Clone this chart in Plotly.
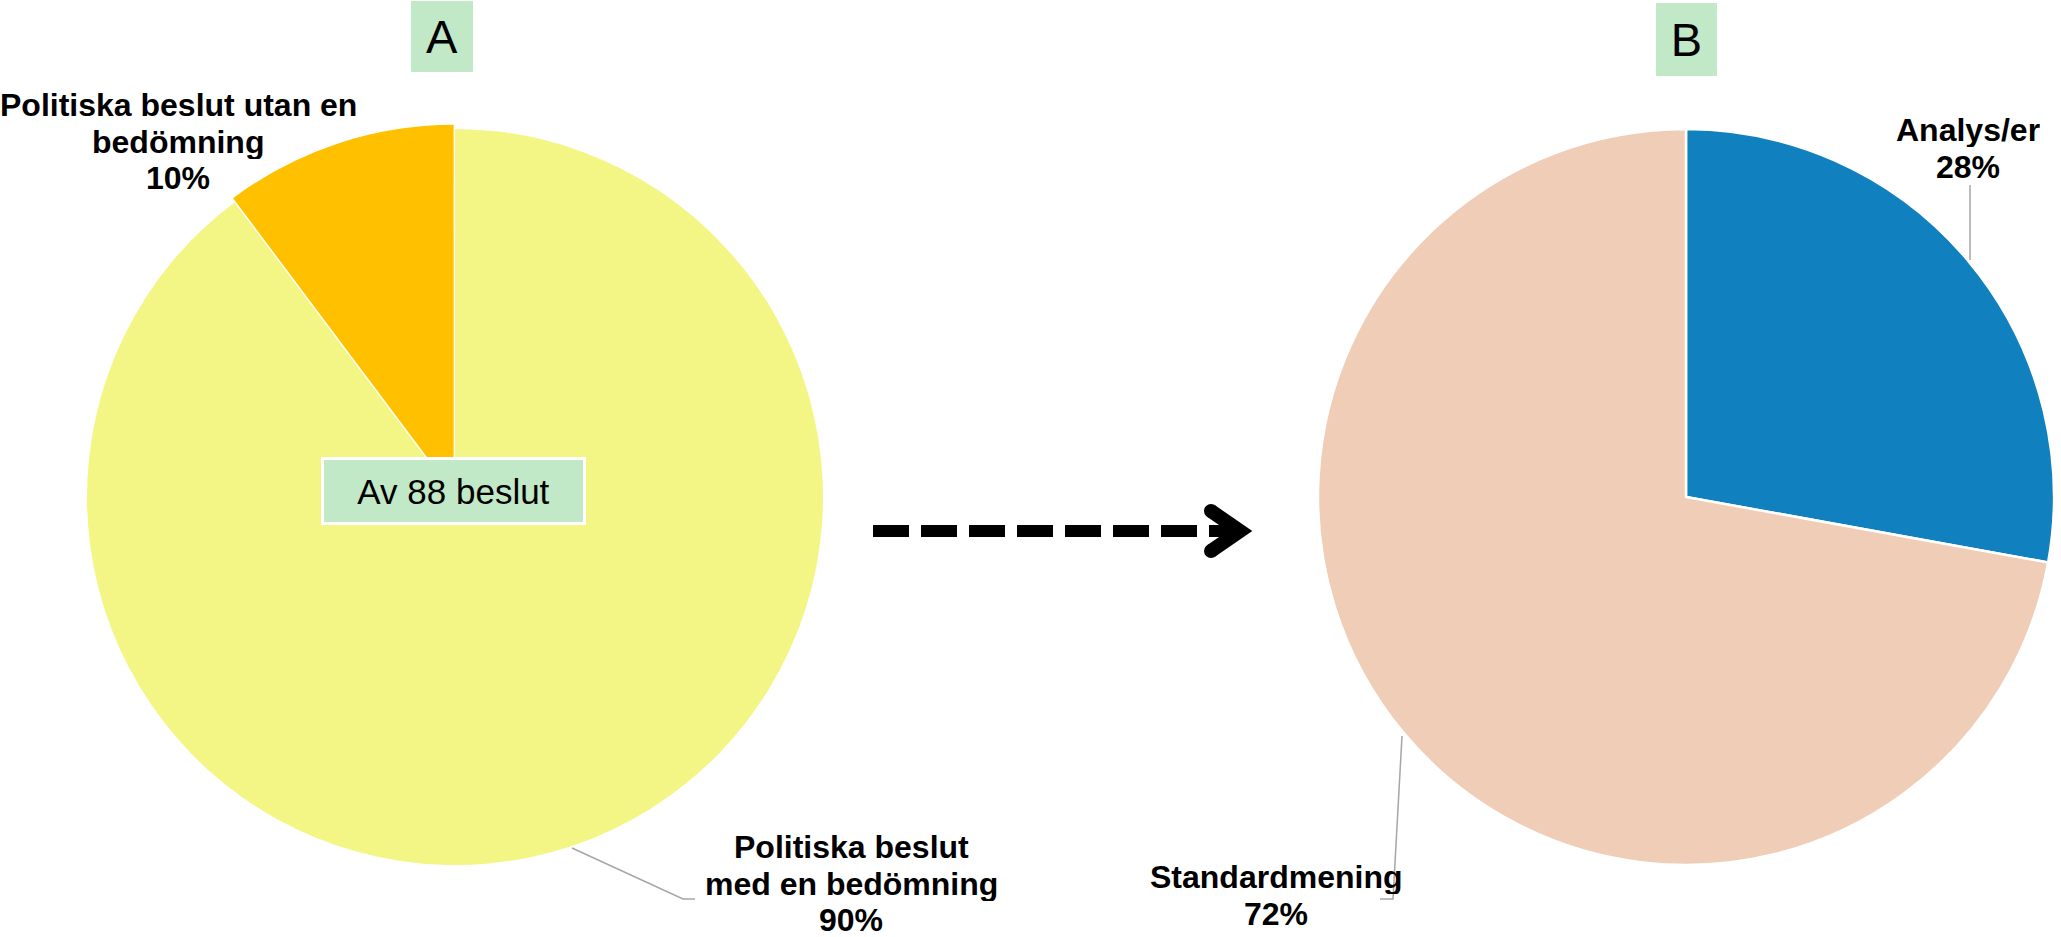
import plotly.graph_objects as go

W, H = 2061, 937

# ---- data ----
panel_titles = ["A", "B"]
labels_a = ["Politiska beslut med en bedömning", "Politiska beslut utan en bedömning"]
display_a = ["Politiska beslut<br>med en bedömning", "Politiska beslut utan en<br>bedömning"]
values_a = [79, 9]
labels_b = ["Analys/er", "Standardmening"]
values_b = [22, 57]

# ---- styles ----
FONT = "Arial, Liberation Sans, sans-serif"
ORANGE = "#FFC000"
YELLOW = "#F3F684"
BLUE = "#1180BF"
BEIGE = "#EFCDB6"
GREEN = "#C1E8C7"
GRAY = "#A6A6A6"


def X(px):
    return px / W


def Y(py):
    return 1 - py / H


def pie_domain(cx, cy, r):
    return dict(x=[X(cx - r), X(cx + r)], y=[Y(cy + r), Y(cy - r)])


pull_a = 0.012
fig = go.Figure()
fig.add_trace(go.Pie(
    values=values_a, labels=labels_a, sort=False, direction="clockwise",
    rotation=0, pull=[0, pull_a], textinfo="none", hoverinfo="label+percent",
    marker=dict(colors=[YELLOW, ORANGE], line=dict(width=0)),
    domain=pie_domain(455, 497, 368 * (1 + pull_a)), showlegend=False,
))
fig.add_trace(go.Pie(
    values=values_b, labels=labels_b, sort=False, direction="clockwise",
    rotation=0, textinfo="none", hoverinfo="label+percent",
    marker=dict(colors=[BLUE, BEIGE], line=dict(color="white", width=2.5)),
    domain=pie_domain(1686, 497, 368), showlegend=False,
))

annotations = []
shapes = []

# slice labels, one annotation per line
gap = 36.5


def add_label(label, value, total, px, py):
    lines = label.split("<br>") + [f"{round(100 * value / total)}%"]
    for i, line in enumerate(lines):
        annotations.append(dict(
            x=X(px), y=Y(py + i * gap), xref="paper", yref="paper",
            text=f"<b>{line}</b>", showarrow=False, xanchor="center", yanchor="middle",
            height=34, font=dict(family=FONT, size=32, color="black"),
        ))


label_pos_a = [(851, 847), (178, 105)]
label_pos_b = [(1968, 130), (1276, 877)]
for lab, v, pos in zip(display_a, values_a, label_pos_a):
    add_label(lab, v, sum(values_a), *pos)
for lab, v, pos in zip(labels_b, values_b, label_pos_b):
    add_label(lab, v, sum(values_b), *pos)


# leader lines
def path(points):
    return "M " + " L ".join(f"{X(px)},{Y(py)}" for px, py in points)


for pts in [[(572, 848), (683, 899), (695, 899)],
            [(1402, 736), (1393, 899), (1380, 899)],
            [(1970, 185), (1970, 260)]]:
    shapes.append(dict(type="path", path=path(pts), xref="paper", yref="paper",
                       line=dict(color=GRAY, width=1.5)))

# panel title boxes
for t, (cx, cy, w, h) in zip(panel_titles, [(442, 37, 62, 71), (1686, 40, 61, 73)]):
    annotations.append(dict(
        x=X(cx), y=Y(cy), xref="paper", yref="paper", text=t, showarrow=False,
        xanchor="center", yanchor="middle", width=w, height=h, bgcolor=GREEN,
        borderpad=0, borderwidth=0, font=dict(family=FONT, size=47, color="black"),
    ))

# "Av 88 beslut" box
annotations.append(dict(
    x=X(453), y=Y(491), xref="paper", yref="paper", text=f"Av {sum(values_a)} beslut",
    showarrow=False, xanchor="center", yanchor="middle", width=259, height=62,
    bgcolor=GREEN, bordercolor="white", borderwidth=3, borderpad=0,
    font=dict(family=FONT, size=35, color="black"),
))

# dashed arrow
shapes.append(dict(type="line", xref="paper", yref="paper",
                   x0=X(873), y0=Y(531), x1=X(1232), y1=Y(531),
                   line=dict(color="black", width=12, dash="36px,12px")))
shapes.append(dict(type="path", xref="paper", yref="paper",
                   path=path([(1211, 511), (1240, 531), (1211, 551)]),
                   line=dict(color="black", width=14)))
for ex, ey in [(1211, 511), (1211, 551)]:
    shapes.append(dict(type="circle", xref="paper", yref="paper",
                       x0=X(ex - 7), x1=X(ex + 7), y0=Y(ey + 7), y1=Y(ey - 7),
                       fillcolor="black", line=dict(width=0)))

fig.update_layout(
    width=W, height=H, margin=dict(l=0, r=0, t=0, b=0),
    paper_bgcolor="white", plot_bgcolor="white",
    annotations=annotations, shapes=shapes, font=dict(family=FONT),
)

fig.write_html("out.html", config={"displayModeBar": False},
               post_script="document.body.style.margin='0';document.body.style.overflow='hidden';")
